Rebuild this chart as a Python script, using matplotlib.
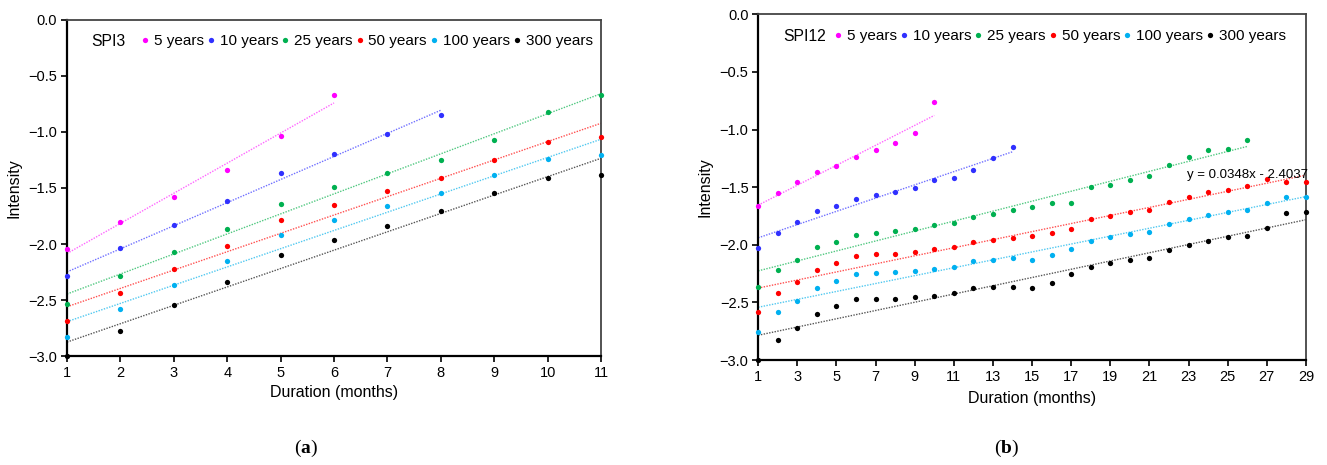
import numpy as np
import matplotlib
matplotlib.use("Agg")
import matplotlib.pyplot as plt
from matplotlib.lines import Line2D

plt.rcParams['font.family'] = ['Liberation Sans', 'DejaVu Sans']
plt.rcParams['mathtext.fontset'] = 'custom'
plt.rcParams['mathtext.bf'] = 'Liberation Serif:bold'
plt.rcParams['mathtext.rm'] = 'Liberation Serif'

# ---------------- data ----------------
series_labels = ["5 years", "10 years", "25 years", "50 years", "100 years", "300 years"]
point_colors = ["#FF00FF", "#3030FF", "#00B050", "#FF0000", "#00B0F0", "#000000"]
line_colors = ["#FF66FF", "#7070FF", "#50C880", "#FF5050", "#50C8F0", "#555555"]

# Panel (a) SPI3
spi3_5 = [-2.047, -1.80, -1.58, -1.342, -1.033, -0.673]
spi3_10 = [-2.29, -2.04, -1.83, -1.62, -1.37, -1.20, -1.02, -0.85]
spi3_25 = [-2.536, -2.286, -2.07, -1.866, -1.64, -1.494, -1.366, -1.253, -1.071, -0.824, -0.67]
spi3_50 = [-2.69, -2.44, -2.226, -2.02, -1.79, -1.655, -1.53, -1.414, -1.253, -1.089, -1.045]
spi3_100 = [-2.833, -2.58, -2.363, -2.155, -1.917, -1.789, -1.66, -1.542, -1.384, -1.238, -1.208]
spi3_300 = [-3.0, -2.774, -2.548, -2.336, -2.095, -1.967, -1.836, -1.708, -1.548, -1.414, -1.381]

# Panel (b) SPI12
spi12_5 = [-1.667, -1.555, -1.455, -1.369, -1.316, -1.235, -1.174, -1.113, -1.026, -0.757]
spi12_10 = [-2.026, -1.896, -1.80, -1.710, -1.667, -1.603, -1.570, -1.545, -1.510, -1.441,
            -1.418, -1.348, -1.244, -1.148]
spi12_25 = [-2.369, -2.217, -2.128, -2.023, -1.977, -1.913, -1.896, -1.884, -1.864, -1.830,
            -1.809, -1.763, -1.731, -1.699, -1.673, -1.641, -1.635, -1.502, -1.478, -1.435,
            -1.406, -1.308, -1.241, -1.174, -1.165, -1.087]
spi12_50 = [-2.580, -2.415, -2.319, -2.215, -2.160, -2.096, -2.084, -2.076, -2.061, -2.038,
            -2.023, -1.977, -1.957, -1.937, -1.928, -1.899, -1.867, -1.777, -1.748, -1.719,
            -1.702, -1.630, -1.583, -1.543, -1.522, -1.493, -1.426, -1.455, -1.455]
spi12_100 = [-2.760, -2.586, -2.487, -2.374, -2.316, -2.250, -2.244, -2.238, -2.229, -2.209,
             -2.191, -2.145, -2.134, -2.119, -2.128, -2.090, -2.038, -1.965, -1.934, -1.904,
             -1.890, -1.823, -1.780, -1.739, -1.719, -1.699, -1.635, -1.586, -1.586]
spi12_300 = [-3.0, -2.826, -2.722, -2.603, -2.534, -2.467, -2.467, -2.467, -2.456, -2.441,
             -2.418, -2.374, -2.365, -2.363, -2.374, -2.334, -2.252, -2.191, -2.160, -2.134,
             -2.113, -2.047, -2.003, -1.963, -1.934, -1.922, -1.858, -1.728, -1.719]

spi3_series = [spi3_5, spi3_10, spi3_25, spi3_50, spi3_100, spi3_300]
spi12_series = [spi12_5, spi12_10, spi12_25, spi12_50, spi12_100, spi12_300]

yticks = [0.0, -0.5, -1.0, -1.5, -2.0, -2.5, -3.0]
ytick_labels = ["0.0", "\u22120.5", "\u22121.0", "\u22121.5", "\u22122.0", "\u22122.5", "\u22123.0"]
xticks_a = list(range(1, 12))
xticks_b = list(range(1, 30, 2))
equation_text = "y = 0.0348x - 2.4037"

# ---------------- figure ----------------
fig = plt.figure(figsize=(13.27, 4.65), dpi=100)
ax_a = fig.add_axes([0.0505, 0.2344, 0.4024, 0.7226])
ax_b = fig.add_axes([0.5714, 0.2258, 0.4127, 0.7434])


def draw_panel(ax, series, xticks, xmax, title, xlabelpad):
    for vals, pc, lc, lab in zip(series, point_colors, line_colors, series_labels):
        x = np.arange(1, len(vals) + 1)
        y = np.array(vals)
        k, b = np.polyfit(x, y, 1)
        xf = np.array([x[0], x[-1]])
        ax.plot(xf, k * xf + b, color=lc, lw=1.0, linestyle=(0, (1, 1)), zorder=2)
        ax.plot(x, y, 'o', color=pc, ms=3.8, mec='none', clip_on=False, zorder=3)
    ax.set_xlim(1, xmax)
    ax.set_ylim(-3.0, 0.0)
    ax.set_yticks(yticks)
    ax.set_yticklabels(ytick_labels)
    ax.set_xticks(xticks)
    ax.tick_params(axis='both', labelsize=10.5, direction='out', length=4, width=1.2, pad=3)
    for s in ['left', 'bottom']:
        ax.spines[s].set_linewidth(1.6)
        ax.spines[s].set_color('black')
    for s in ['top', 'right']:
        ax.spines[s].set_linewidth(1.3)
        ax.spines[s].set_color('#444444')
    ax.set_ylabel("Intensity", fontsize=11.5, labelpad=5)
    ax.set_xlabel("Duration (months)", fontsize=11.5, labelpad=xlabelpad)
    handles = [Line2D([], [], marker='o', color=pc, ms=3.8, mec='none', linestyle='none')
               for pc in point_colors]
    ax.text(0.046, 0.937, title, transform=ax.transAxes, fontsize=11.3, va='center', ha='left')
    ax.legend(handles, series_labels, loc='center left', bbox_to_anchor=(0.139, 0.937),
              ncol=6, frameon=False, fontsize=11.0, handlelength=0.5, handletextpad=0.32,
              columnspacing=0.22, borderpad=0, borderaxespad=0, markerscale=1.0)


draw_panel(ax_a, spi3_series, xticks_a, 11, "SPI3", 4)
draw_panel(ax_b, spi12_series, xticks_b, 29, "SPI12", 5)

ax_b.text(22.9, -1.395, equation_text, fontsize=9.5, ha='left', va='center', zorder=4)

fig.text(306 / 1327, 1 - 448 / 465, r'($\mathbf{a}$)', fontsize=14, ha='center', va='center',
         family='Liberation Serif')
fig.text(1007 / 1327, 1 - 448 / 465, r'($\mathbf{b}$)', fontsize=14, ha='center', va='center',
         family='Liberation Serif')

fig.savefig("out.png", dpi=100)
